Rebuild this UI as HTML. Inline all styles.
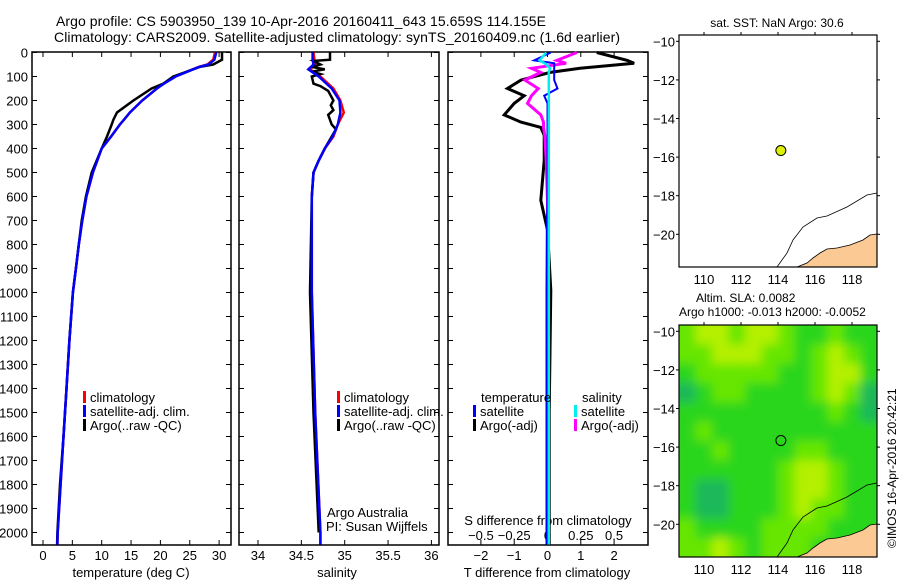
<!DOCTYPE html>
<html><head><meta charset="utf-8"><style>
html,body{margin:0;padding:0;background:#fff}
svg{display:block;font-family:"Liberation Sans",sans-serif}
</style></head><body>
<svg id="c" width="900" height="580" viewBox="0 0 900 580" xmlns="http://www.w3.org/2000/svg">
<defs>
<filter id="blur" x="-5%" y="-5%" width="110%" height="110%"><feGaussianBlur stdDeviation="5"/></filter>
<clipPath id="mapclip"><rect x="679" y="325" width="198" height="232"/></clipPath>
</defs>
<text x="56" y="26" font-size="14" textLength="490">Argo profile: CS 5903950_139 10-Apr-2016 20160411_643 15.659S 114.155E</text>
<text x="54" y="42" font-size="14" textLength="566">Climatology: CARS2009. Satellite-adjusted climatology: synTS_20160409.nc (1.6d earlier)</text>
<g id="g"></g>
</svg>
<script>
// ---------- data ----------
const depthTicks=[0,100,200,300,400,500,600,700,800,900,1000,1100,1200,1300,1400,1500,1600,1700,1800,1900,2000];
const tTicks=[0,5,10,15,20,25,30];
const sTicks=[34,34.5,35,35.5,36];
const dTTicks=[-2,-1,0,1,2];
const dSTicks=[-0.5,-0.25,0,0.25,0.5];
const dSTickLabels=["-0.5","-0.25","0","0.25","0.5"];

const tDepth=[0,30,50,60,80,100,130,150,200,250,280,300,350,400,500,600,700,800,900,1000,1200,1400,1600,1800,2000,2050];
const tArgo=[30.5,30.5,29,26.7,24.5,22.2,20.5,18.5,15.4,12.6,12,11.7,10.9,10,8.3,7.3,6.6,6.1,5.6,5.1,4.5,4.0,3.5,2.9,2.45,2.4];
const tClim=[29.3,29,28,26.5,24.5,22.5,20.5,19.4,16.9,14.8,13.8,13.1,11.6,10,8.5,7.4,6.7,6.1,5.6,5.1,4.5,4.0,3.5,3.0,2.5,2.45];
const tSat=[29.5,29.2,28.2,26.6,24.6,22.6,20.6,19.4,16.9,14.8,13.8,13.1,11.6,10,8.5,7.4,6.7,6.1,5.6,5.1,4.5,4.0,3.5,3.0,2.5,2.45];

const sDepth=[0,30,50,70,100,150,200,250,300,350,400,450,500,600,800,1000,1500,2000,2050];
const sClim=[34.64,34.65,34.66,34.6,34.72,34.87,34.95,34.99,34.92,34.87,34.77,34.70,34.64,34.62,34.62,34.62,34.66,34.72,34.72];
const sSat=[34.63,34.63,34.64,34.58,34.70,34.85,34.94,34.95,34.92,34.86,34.77,34.70,34.64,34.62,34.62,34.62,34.66,34.72,34.72];
const aDepth=[0,30,35,50,60,70,80,90,100,130,140,160,200,220,240,260,300,320,350,400,450,500,600,1000,1500,2000];
const sArgo=[34.83,34.83,34.64,34.72,34.62,34.77,34.62,34.72,34.62,34.64,34.72,34.81,34.87,34.84,34.87,34.81,34.85,34.90,34.85,34.77,34.70,34.64,34.62,34.6,34.64,34.7];

const dDepth=[0,33,45,66,83,115,150,180,212,260,290,312,345,450,616,740,990,1500,2050];
const dTArgo=[1.48,2.4,2.6,0.98,0.08,-0.8,-1.2,-0.7,-1.0,-1.3,-0.8,-0.2,-0.1,-0.1,-0.2,0,0.1,0.05,0.05];
const dTSat=[0.1,-0.4,0.2,0.2,0.2,0.2,0.3,-0.1,0,0,0,0,0,0,0,-0.02,-0.03,-0.03,-0.03];
const dSArgo=[0.22,0.07,0.14,-0.12,-0.05,-0.17,-0.07,-0.12,-0.15,-0.05,-0.03,-0.03,-0.02,-0.01,0,0,0,0,0];
const dSSat=[-0.01,-0.06,-0.02,0.02,0.01,0.01,0.01,0.01,0.01,0.01,0.01,0.01,0.01,0.01,0.01,0.01,0.01,0.01,0.01];

const lonTicks=[110,112,114,116,118];
const latTicks=[-10,-12,-14,-16,-18,-20];
const argoLon=114.155, argoLat=-15.659;
const slaRows=[
[2,3,3,2,3,3,2,1,1,2,1,1],
[2,2,3,3,3,2,2,1,2,3,2,1],
[1,2,2,2,2,2,1,1,2,3,3,1],
[0,1,2,2,1,1,1,1,2,3,2,0],
[1,1,1,1,1,1,1,1,1,2,1,0],
[1,2,1,1,1,1,1,1,1,1,1,1],
[1,1,2,1,1,1,1,2,2,1,1,1],
[1,1,1,1,1,1,2,3,3,2,1,1],
[1,0,0,1,1,1,2,3,3,2,1,1],
[1,0,0,1,1,1,2,3,2,2,1,1],
[2,1,1,1,1,2,2,2,2,1,1,1],
[2,2,3,2,1,2,2,2,1,1,1,1]];
const slaColors=["#1cb85a","#2cd61c","#66e600","#b4f000"];

// ---------- helpers ----------
const NS="http://www.w3.org/2000/svg", G=document.getElementById('g');
function el(tag,attrs,parent){const e=document.createElementNS(NS,tag);for(const k in attrs)e.setAttribute(k,attrs[k]);(parent||G).appendChild(e);return e;}
function txt(x,y,s,size,anchor,name,parent){const t=el('text',{x:x,y:y,'font-size':size,'text-anchor':anchor||'start'},parent);t.textContent=s;


return t;}
const top0=52,bot=545,yD=d=>52.5+d*0.24;
const P=[{x0:32,x1:231},{x0:239,x1:439},{x0:448,x1:648}];
const xT=v=>43+v*5.87, xS=v=>258+(v-34)*86.7, xDT=v=>547.5+v*33.3, xDS=v=>547.5+v*133.2;
function line(xs,ds,fx,col,w,name){const pts=xs.map((v,i)=>fx(v).toFixed(1)+','+yD(ds[i]).toFixed(1)).join(' ');
const p=el('polyline',{points:pts,fill:'none',stroke:col,'stroke-width':w,'stroke-linejoin':'miter'});

}

P.forEach((p,i)=>{const r=el('rect',{x:p.x0,y:top0,width:p.x1-p.x0,height:bot-top0,fill:'none',stroke:'#000','stroke-width':1.5});


depthTicks.forEach(d=>{el('line',{x1:p.x0,x2:p.x0+5,y1:yD(d),y2:yD(d),stroke:'#000'});el('line',{x1:p.x1-5,x2:p.x1,y1:yD(d),y2:yD(d),stroke:'#000'});});});
depthTicks.forEach(d=>txt(28,yD(d)+5,String(d),13,'end','depth-tick-label'));
tTicks.forEach(v=>{el('line',{x1:xT(v),x2:xT(v),y1:bot,y2:bot-5,stroke:'#000'});el('line',{x1:xT(v),x2:xT(v),y1:top0,y2:top0+5,stroke:'#000'});txt(xT(v),560,String(v),13,'middle','temperature-tick-label');});
sTicks.forEach(v=>{el('line',{x1:xS(v),x2:xS(v),y1:bot,y2:bot-5,stroke:'#000'});el('line',{x1:xS(v),x2:xS(v),y1:top0,y2:top0+5,stroke:'#000'});txt(xS(v),560,String(v),13,'middle','salinity-tick-label');});
dTTicks.forEach(v=>{el('line',{x1:xDT(v),x2:xDT(v),y1:bot,y2:bot-5,stroke:'#000'});txt(xDT(v),560,v<0?'\u2212'+(-v):String(v),13,'middle','t-diff-tick-label');});
dSTicks.forEach((v,i)=>{el('line',{x1:xDS(v),x2:xDS(v),y1:top0,y2:top0+5,stroke:'#000'});txt(xDS(v),540,dSTickLabels[i].replace('-','\u2212'),13,'middle','s-diff-tick-label');});
txt(131,577,'temperature (deg C)',13,'middle','x-axis-title-temperature');
txt(337,577,'salinity',13,'middle','x-axis-title-salinity');
txt(547,577,'T difference from climatology',13,'middle','x-axis-title-t-diff');
txt(548,525,'S difference from climatology',13,'middle','s-diff-axis-title');

line(tClim,tDepth,xT,'#f00',2.5,'temperature-climatology-line');
line(tArgo,tDepth,xT,'#000',2.5,'temperature-argo-line');
line(tSat,tDepth,xT,'#00f',2.5,'temperature-satellite-line');
line(sClim,sDepth,xS,'#f00',2.5,'salinity-climatology-line');
line(sArgo,aDepth,xS,'#000',2.5,'salinity-argo-line');
line(sSat,sDepth,xS,'#00f',2.5,'salinity-satellite-line');
line(dTArgo,dDepth,xDT,'#000',3,'t-diff-argo-line');
line(dSArgo,dDepth,xDS,'#f0f',3,'s-diff-argo-line');
line(dTSat,dDepth,xDT,'#00f',2,'t-diff-satellite-line');
line(dSSat,dDepth,xDS,'#0ee',2.5,'s-diff-satellite-line');

function leg(x,y,col,label,name){el('rect',{x:x,y:y-11,width:3,height:12,fill:col});txt(x+7,y,label,13,'start',name);}
leg(83,402,'#f00','climatology','legend-climatology');
leg(83,416,'#00f','satellite-adj. clim.','legend-satellite-adj');
leg(83,430,'#000','Argo(..raw -QC)','legend-argo');
leg(337,402,'#f00','climatology','legend-climatology-2');
leg(337,416,'#00f','satellite-adj. clim.','legend-satellite-adj-2');
leg(337,430,'#000','Argo(..raw -QC)','legend-argo-2');
txt(481,402,'temperature',13,'start','legend-temperature-header');
leg(473,416,'#00f','satellite','legend-t-satellite');
leg(473,430,'#000','Argo(-adj)','legend-t-argo');
txt(582,402,'salinity',13,'start','legend-salinity-header');
leg(574,416,'#0ee','satellite','legend-s-satellite');
leg(574,430,'#f0f','Argo(-adj)','legend-s-argo');
txt(327,517,'Argo Australia',13,'start','credit-argo-australia');
txt(326,531,'PI: Susan Wijffels',13,'start','credit-pi');

const M=[{y0:35,y1:267},{y0:325,y1:557}];
const mx0=679,mx1=877;
const xLon=v=>704+(v-110)*18.5;
M.forEach((m,mi)=>{
 const yLat=v=>m.y0+6.3+(-10-v)*19.3;
 if(mi===1){const cw=(mx1-mx0)/12,ch=(m.y1-m.y0)/12;
  const cg=el('g',{'clip-path':'url(#mapclip)'});
  el('rect',{x:mx0,y:m.y0,width:mx1-mx0,height:m.y1-m.y0,fill:slaColors[1]},cg);
  const hg=el('g',{filter:'url(#blur)'},cg);
  slaRows.forEach((row,r)=>row.forEach((v,c)=>{const cell=el('rect',{x:mx0+c*cw-(c===0?8:0),y:m.y0+r*ch-(r===0?8:0),width:cw+0.5+(c===0||c===11?8:0),height:ch+0.5+(r===0||r===11?8:0),fill:slaColors[v]},hg);
  
  }));}
 const oy=m.y0-35;
 const land=el('path',{d:`M877 ${234+oy} L870 ${235+oy} L863 ${240+oy} L850 ${245+oy} L837 ${248+oy} L827 ${249+oy} L820 ${253+oy} L813 ${258+oy} L807 ${263+oy} L797 ${267+oy} L877 ${267+oy} Z`,fill:'#fbc993',stroke:'#000','stroke-width':0.8});
 
 
 const cont=el('polyline',{points:`877,${193+oy} 867,${195+oy} 847,${207+oy} 827,${216+oy} 817,${218+oy} 803,${227+oy} 793,${240+oy} 787,${253+oy} 777,${267+oy}`,fill:'none',stroke:'#000','stroke-width':0.8});
 
 
 const fr=el('rect',{x:mx0,y:m.y0,width:mx1-mx0,height:m.y1-m.y0,fill:'none',stroke:'#000','stroke-width':1.2});
 
 
 lonTicks.forEach(v=>{el('line',{x1:xLon(v),x2:xLon(v),y1:m.y0,y2:m.y0-3,stroke:'#000'});txt(xLon(v),m.y1+17,String(v),13,'middle','map-lon-tick-label');});
 latTicks.forEach(v=>{el('line',{x1:mx0,x2:mx0-3,y1:yLat(v),y2:yLat(v),stroke:'#000'});el('line',{x1:mx1,x2:mx1+3,y1:yLat(v),y2:yLat(v),stroke:'#000'});txt(675,yLat(v)+5,'\u2212'+(-v),13,'end','map-lat-tick-label');});
 const pt=el('circle',{cx:xLon(argoLon),cy:yLat(argoLat),r:5,fill:mi===0?'#ddf000':'none',stroke:'#000','stroke-width':1});
 
 
});
txt(777,27,'sat. SST: NaN Argo: 30.6',12,'middle','map-sst-title');
txt(696,302,'Altim. SLA: 0.0082',12,'start','map-sla-title');
txt(679,316,'Argo h1000: -0.013 h2000: -0.0052',12,'start','map-argo-height-title');
const ct=txt(0,0,'\u00a9IMOS 16-Apr-2016 20:42:21',12,'start','timestamp-credit');
ct.setAttribute('transform','translate(896,548) rotate(-90)');
</script>
</body></html>
